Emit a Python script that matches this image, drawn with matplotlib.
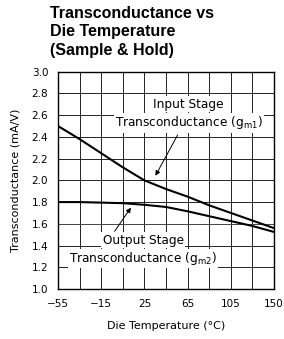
import numpy as np
import matplotlib
matplotlib.use('Agg')
import matplotlib.pyplot as plt

plt.rcParams['font.family'] = 'DejaVu Sans'
plt.rcParams['mathtext.default'] = 'regular'

# Die temperature (deg C), every 20 degrees
temp = [-55, -35, -15, 5, 25, 45, 65, 85, 105, 125, 145]
# Input stage transconductance gm1 (mA/V)
gm1 = [2.50, 2.38, 2.25, 2.12, 2.00, 1.92, 1.85, 1.77, 1.70, 1.63, 1.56]
# Output stage transconductance gm2 (mA/V)
gm2 = [1.80, 1.80, 1.795, 1.79, 1.775, 1.755, 1.715, 1.67, 1.625, 1.58, 1.525]

x_ticks = [-55, -15, 25, 65, 105, 145]
x_labels = ['\u221255', '\u221215', '25', '65', '105', '150']
y_ticks = [1.0, 1.2, 1.4, 1.6, 1.8, 2.0, 2.2, 2.4, 2.6, 2.8, 3.0]

fig = plt.figure(figsize=(2.84, 3.39), dpi=100)
ax = fig.add_axes([0.204, 0.1475, 0.761, 0.641])

# grid every 20 degrees / 0.2 mA/V
for xv in np.arange(-55, 146, 20):
    ax.axvline(xv, color='#222222', lw=0.7, zorder=1)
for yv in y_ticks:
    ax.axhline(yv, color='#444444' if yv == 1.6 else '#222222', lw=0.7, zorder=1)

ax.plot(temp, gm1, color='black', lw=1.5, zorder=3, solid_joinstyle='round')
ax.plot(temp, gm2, color='black', lw=1.5, zorder=3, solid_joinstyle='round')

ax.set_xlim(-55, 145)
ax.set_ylim(1.0, 3.0)
ax.set_xticks(x_ticks)
ax.set_xticklabels(x_labels)
ax.set_yticks(y_ticks)
ax.set_yticklabels([f'{v:.1f}' for v in y_ticks])
ax.tick_params(length=0, labelsize=7.5, pad=7)
for s in ax.spines.values():
    s.set_linewidth(1.0)

ax.set_xlabel('Die Temperature (\u00b0C)', fontsize=8, labelpad=9)
ax.set_ylabel('Transconductance (mA/V)', fontsize=8, labelpad=8)

box = dict(facecolor='white', edgecolor='none', pad=1.0)
ax.text(66, 2.70, 'Input Stage', fontsize=8.7, ha='center', va='center', bbox=box, zorder=4)
ax.text(66, 2.53, 'Transconductance (g$_{m1}$)', fontsize=8.7, ha='center', va='center', bbox=box, zorder=4)
ax.annotate('', xy=(34, 2.02), xytext=(57, 2.44),
            arrowprops=dict(arrowstyle='-|>', color='black', lw=0.7, mutation_scale=7), zorder=4)

ax.text(24, 1.45, 'Output Stage', fontsize=8.7, ha='center', va='center', bbox=box, zorder=4)
ax.text(24, 1.28, 'Transconductance (g$_{m2}$)', fontsize=8.7, ha='center', va='center', bbox=box, zorder=4)
ax.annotate('', xy=(14, 1.77), xytext=(-4, 1.51),
            arrowprops=dict(arrowstyle='-|>', color='black', lw=0.7, mutation_scale=7), zorder=4)

fig.text(0.176, 0.983, 'Transconductance vs\nDie Temperature\n(Sample & Hold)',
         fontsize=11.5, fontweight='bold', family='Liberation Sans',
         ha='left', va='top', linespacing=1.3)

fig.savefig('out.png', dpi=100)
